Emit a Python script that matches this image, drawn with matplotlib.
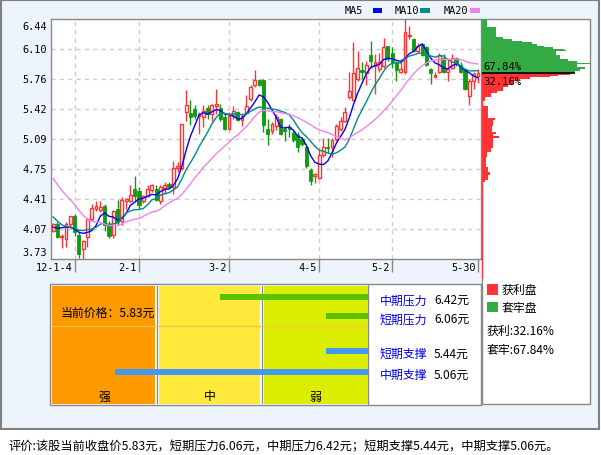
import matplotlib
matplotlib.use("Agg")
import matplotlib.pyplot as plt
from matplotlib.patches import Rectangle
import numpy as np

plt.rcParams["font.family"] = ["Noto Sans CJK SC", "DejaVu Sans"]

W, H, DPI = 601, 456, 100

# Daily candles, 2011-12-26 .. 2012-05-30
opens = [4.05, 4.13, 3.98, 3.96, 4.12, 4.21, 4.00, 3.84, 3.98, 4.18,
         4.30, 4.28, 4.33, 4.13, 4.00, 4.29, 4.16, 4.38, 4.39, 4.52,
         4.50, 4.38, 4.44, 4.51, 4.52, 4.38, 4.53, 4.58, 4.54, 4.76,
         4.76, 5.39, 5.38, 5.42, 5.34, 5.33, 5.43, 5.37, 5.46, 5.44,
         5.33, 5.20, 5.35, 5.39, 5.30, 5.38, 5.54, 5.69, 5.75, 5.75,
         5.20, 5.17, 5.23, 5.31, 5.20, 5.22, 5.15, 5.13, 5.08, 5.00,
         4.74, 4.67, 4.65, 4.90, 5.00, 4.99, 5.08, 5.20, 5.29, 5.56,
         5.53, 5.76, 5.86, 5.83, 6.03, 5.91, 5.88, 5.91, 6.13, 6.06,
         5.95, 5.84, 5.84, 6.25, 6.21, 6.08, 6.16, 6.12, 5.88, 5.78,
         5.84, 6.00, 5.84, 5.89, 6.00, 5.92, 5.86, 5.57, 5.74, 5.80]
highs = [4.14, 4.15, 4.01, 4.15, 4.22, 4.24, 4.03, 3.95, 4.19, 4.35,
         4.39, 4.39, 4.35, 4.16, 4.28, 4.40, 4.43, 4.42, 4.57, 4.67,
         4.54, 4.45, 4.56, 4.58, 4.56, 4.56, 4.60, 4.60, 4.84, 4.82,
         5.26, 5.64, 5.52, 5.47, 5.39, 5.47, 5.47, 5.48, 5.65, 5.48,
         5.37, 5.39, 5.46, 5.40, 5.37, 5.58, 5.69, 5.86, 5.76, 5.76,
         5.31, 5.28, 5.37, 5.32, 5.23, 5.26, 5.17, 5.16, 5.11, 5.01,
         4.76, 4.70, 4.97, 5.10, 5.10, 5.10, 5.25, 5.33, 5.45, 5.84,
         6.18, 6.08, 5.96, 5.97, 6.19, 6.04, 6.06, 6.23, 6.14, 6.12,
         5.97, 5.99, 6.44, 6.36, 6.22, 6.17, 6.17, 6.14, 5.89, 5.84,
         6.06, 6.04, 5.99, 6.04, 6.01, 5.96, 5.88, 5.76, 5.84, 5.88]
lows = [4.04, 3.97, 3.85, 3.87, 4.09, 3.99, 3.74, 3.73, 3.87, 4.16,
        4.27, 4.26, 4.05, 3.97, 3.97, 4.11, 4.11, 4.30, 4.37, 4.38,
        4.30, 4.36, 4.43, 4.49, 4.39, 4.35, 4.46, 4.53, 4.46, 4.71,
        4.74, 5.29, 5.24, 5.31, 5.14, 5.22, 5.31, 5.29, 5.37, 5.29,
        5.19, 5.19, 5.31, 5.29, 5.23, 5.37, 5.51, 5.67, 5.68, 5.16,
        5.02, 5.14, 5.19, 5.13, 5.06, 5.11, 5.05, 4.94, 5.01, 4.76,
        4.56, 4.59, 4.63, 4.88, 4.93, 4.88, 5.06, 5.18, 5.28, 5.54,
        5.52, 5.74, 5.76, 5.70, 5.89, 5.59, 5.84, 5.89, 5.97, 5.89,
        5.74, 5.83, 5.82, 6.21, 6.07, 6.06, 6.02, 5.91, 5.71, 5.78,
        5.83, 5.83, 5.74, 5.87, 5.91, 5.83, 5.64, 5.47, 5.65, 5.72]
closes = [4.12, 3.98, 3.99, 4.13, 4.21, 4.04, 3.79, 3.93, 4.18, 4.31,
          4.33, 4.32, 4.11, 3.99, 4.27, 4.15, 4.40, 4.41, 4.45, 4.44,
          4.34, 4.44, 4.52, 4.56, 4.40, 4.54, 4.56, 4.54, 4.76, 4.78,
          5.25, 5.47, 5.33, 5.35, 5.37, 5.40, 5.37, 5.47, 5.48, 5.31,
          5.20, 5.34, 5.40, 5.30, 5.34, 5.46, 5.67, 5.75, 5.69, 5.24,
          5.14, 5.25, 5.33, 5.14, 5.18, 5.20, 5.07, 5.00, 5.03, 4.78,
          4.61, 4.69, 4.90, 5.00, 4.98, 5.07, 5.23, 5.29, 5.39, 5.63,
          5.83, 5.89, 5.84, 5.92, 5.97, 5.95, 5.95, 6.12, 5.99, 5.95,
          5.86, 5.88, 6.29, 6.26, 6.08, 6.13, 6.03, 5.92, 5.83, 5.81,
          6.03, 5.84, 5.88, 6.00, 5.93, 5.84, 5.65, 5.74, 5.82, 5.83]
# earlier sessions, needed to start the moving averages at the first candle
prior_closes = [5.35, 5.30, 5.25, 5.20, 5.15, 5.10, 5.05, 5.05, 4.75, 4.55,
                4.45, 4.40, 4.35, 4.25, 4.15, 4.05, 3.95, 4.10, 4.23]

tick_index = [5, 20, 41, 62, 79, 99]
tick_labels = ["12-1-4", "2-1", "3-2", "4-5", "5-2", "5-30"]
price_ticks = [3.73, 4.07, 4.41, 4.75, 5.09, 5.42, 5.76, 6.10, 6.44]

# chip distribution: price band (top, bottom) and amount held in it
chip_top = [6.44, 6.35, 6.24, 6.21, 6.19, 6.18, 6.16, 6.14, 6.12, 6.105,
            6.095, 6.085, 6.075, 6.03, 5.99, 5.97, 5.945, 5.935, 5.90, 5.88,
            5.85,
            5.83, 5.81, 5.80, 5.79, 5.78, 5.76, 5.74, 5.70, 5.67, 5.63,
            5.61, 5.56, 5.51, 5.46, 5.32, 5.30, 5.23, 5.16, 5.14, 5.12,
            5.10, 4.98, 4.94, 4.88, 4.77, 4.71, 4.68, 4.62, 4.60]
chip_bottom = [6.35, 6.24, 6.21, 6.19, 6.18, 6.16, 6.14, 6.12, 6.105, 6.095,
               6.085, 6.075, 6.03, 5.99, 5.97, 5.945, 5.935, 5.90, 5.88, 5.85,
               5.83,
               5.81, 5.80, 5.79, 5.78, 5.76, 5.74, 5.70, 5.67, 5.63, 5.61,
               5.56, 5.51, 5.46, 5.32, 5.30, 5.23, 5.16, 5.14, 5.12, 5.10,
               4.98, 4.94, 4.88, 4.77, 4.71, 4.68, 4.62, 4.60, 3.50]
chip_amount = [5, 14, 21, 30, 40, 50, 55, 62, 71, 82,
               65, 84, 74, 78, 86, 95, 108, 95, 103, 98,
               93,
               88, 76, 68, 58, 48, 38, 31, 26, 21, 15,
               9, 3, 1.3, 6.3, 13, 11, 9.7, 14, 11, 17,
               10.7, 8.7, 5.3, 4, 6.3, 8, 6.3, 3, 1.2]
current_price = 5.83
profit_pct = 32.16
trapped_pct = 67.84

level_names = ["中期压力", "短期压力", "短期支撑", "中期支撑"]
level_prices = [6.42, 6.06, 5.44, 5.06]
level_strength = [1.4, 0.39, 0.39, 2.4]
zone_names = ["强", "中", "弱"]

RED = "#FF3333"
GREEN = "#109A10"
CHIP_GREEN = "#33AA44"
GRID = "#CCCCCC"
FRAME = "#888888"
BG = "#EEF4FC"
MONO = "DejaVu Sans Mono"

fig = plt.figure(figsize=(W / DPI, H / DPI), dpi=DPI, facecolor="white")


def px_axes(x0, y0, x1, y1):
    return fig.add_axes([x0 / W, 1 - y1 / H, (x1 - x0) / W, (y1 - y0) / H])


# pixel-space canvas for frames, legends and free text
bg = px_axes(0, 0, W, H)
bg.set_xlim(0, W)
bg.set_ylim(H, 0)
bg.axis("off")
bg.add_patch(Rectangle((1, 1), 598, 429, facecolor=BG, edgecolor="#808080", lw=1.5))
bg.add_patch(Rectangle((482, 20), 108, 385, facecolor="white", edgecolor=FRAME, lw=1))
bg.add_patch(Rectangle((50, 285), 431, 121, facecolor="white", edgecolor=FRAME, lw=1))

# ---- candlestick chart ----
ax = px_axes(51, 20, 480.5, 260)
ax.set_facecolor("white")
n = len(closes)
x = np.arange(n)
o = np.array(opens)
c = np.array(closes)
hi = np.array(highs)
lo = np.array(lows)
up = c >= o

ax.set_xlim(-0.5, 99.6)
ax.set_ylim(price_ticks[0], price_ticks[-1])

for v in price_ticks[1:-1]:
    ax.axhline(v, color=GRID, lw=1, ls=(0, (3, 3)), zorder=1)
for t in tick_index[:-1]:
    ax.axvline(t, color=GRID, lw=1, ls=(0, (3, 3)), zorder=1)

ax.vlines(x, lo, hi, colors=np.where(up, RED, GREEN), lw=1, zorder=2)
body_lo = np.minimum(o, c)
body_h = np.maximum(np.abs(c - o), 0.008)
ax.bar(x[up], body_h[up], bottom=body_lo[up], width=0.66, facecolor="white",
       edgecolor=RED, lw=1, zorder=3)
ax.bar(x[~up], body_h[~up], bottom=body_lo[~up], width=0.74, facecolor=GREEN,
       edgecolor=GREEN, lw=0.6, zorder=3)

full = np.array(prior_closes + closes)
k0 = len(prior_closes)
ma_specs = [("MA5", 5, "#0000FF"), ("MA10", 10, "#008B8B"), ("MA20", 20, "#EE82EE")]
for name, w, col in ma_specs:
    ma = np.array([full[k0 + i - w + 1:k0 + i + 1].mean() for i in range(n)])
    ax.plot(x, ma, color=col, lw=1, zorder=4)

for s in ax.spines.values():
    s.set_color(FRAME)
    s.set_linewidth(1)
ax.set_yticks([])
ax.set_xticks(tick_index)
ax.set_xticklabels([])
ax.tick_params(axis="x", length=9, width=1, color=FRAME, direction="out")

for i, v in enumerate(price_ticks):
    dy = -5 if i == len(price_ticks) - 1 else (5 if i == 0 else 0)
    ax.annotate(f"{v:.2f}", xy=(0, v), xycoords=("axes fraction", "data"),
                xytext=(-3, dy), textcoords="offset points", ha="right",
                va="center", fontsize=7.4, family=MONO)
for t, lab in zip(tick_index, tick_labels):
    ax.annotate(lab, xy=(t, 0), xycoords=("data", "axes fraction"),
                xytext=(-1.5, -6), textcoords="offset points", ha="right",
                va="center", fontsize=7.4, family=MONO)

# legend along the top
leg_text_x = [345, 395, 444]
leg_box_x = [372.5, 420, 470]
for (name, w, col), lx, bx in zip(ma_specs, leg_text_x, leg_box_x):
    bg.text(lx, 11.5, name, fontsize=7.4, family=MONO, ha="left", va="center")
    bg.add_patch(Rectangle((bx, 9.3), 9.5, 4.7, facecolor=col, edgecolor="none"))

# ---- chip distribution ----
cax = px_axes(482, 20, 590, 280)
cax.set_xlim(0, 108)
cax.set_ylim(price_ticks[-1] - (price_ticks[-1] - price_ticks[0]) * 260 / 240, price_ticks[-1])
cax.axis("off")
ct = np.array(chip_top)
cb = np.array(chip_bottom)
chip_cols = np.where(cb >= current_price - 1e-9, CHIP_GREEN, RED)
cax.barh((ct + cb) / 2, chip_amount, height=ct - cb, left=0, color=chip_cols,
         edgecolor="none", align="center")
cax.hlines(current_price, 0, 93, color="black", lw=1.2)
cax.annotate(f"{trapped_pct:.2f}%", xy=(0, current_price), xytext=(1.2, 1.2),
             textcoords="offset points", ha="left", va="bottom", fontsize=7.6, family=MONO)
cax.annotate(f"{profit_pct:.2f}%", xy=(0, current_price), xytext=(1.2, -2.5),
             textcoords="offset points", ha="left", va="top", fontsize=7.6, family=MONO)

# chip legend
bg.add_patch(Rectangle((487.3, 285), 10.4, 10.7, facecolor=RED, edgecolor="none"))
bg.text(502, 290.7, "获利盘", fontsize=8.6, ha="left", va="center")
bg.add_patch(Rectangle((487.3, 302.7), 10.4, 10.7, facecolor=CHIP_GREEN, edgecolor="none"))
bg.text(502, 308.2, "套牢盘", fontsize=8.6, ha="left", va="center")
bg.text(486.7, 331.7, f"获利:{profit_pct:.2f}%", fontsize=8.6, ha="left", va="center")
bg.text(486.7, 351, f"套牢:{trapped_pct:.2f}%", fontsize=8.6, ha="left", va="center")

# ---- pressure / support panel ----
zax = px_axes(52, 287, 367.5, 404.5)
zax.set_xlim(3, 0)
zax.set_ylim(117.5, 0)
zax.axis("off")
zone_cols = ["#FF9900", "#FFE93A", "#DCEE00"]
for j, (zn, zc) in enumerate(zip(zone_names, zone_cols)):
    zax.axvspan(3 - j, 2 - j, color=zc, lw=0, zorder=0)
    zax.text(2.5 - j, 110, zn, ha="center", va="center", fontsize=8.6)
for b in (2, 1):
    zax.axvline(b, color="white", lw=3, zorder=1)
    zax.axvline(b, color=FRAME, lw=0.9, zorder=1)
zax.axhline(40.3, color="#F5C24A", lw=0.9, zorder=1)
rows = [11, 30, 65, 86]
bar_cols = ["#5CBF00", "#5CBF00", "#4499EE", "#4499EE"]
zax.barh(rows, level_strength, left=0, height=5.7, color=bar_cols, zorder=2)
zax.text(2.92, 26.3, f"当前价格：{current_price:.2f}元", ha="left", va="center", fontsize=8.6)

bg.vlines(368, 285, 406, color=FRAME, lw=1)
for r, nm, p in zip(rows, level_names, level_prices):
    yy = 287 + r + 2.7
    bg.text(380, yy, nm, color="#0000EE", fontsize=8.6, ha="left", va="center")
    bg.text(434, yy, f"{p:.2f}元", fontsize=8.6, ha="left", va="center")

summary = (f"评价:该股当前收盘价{current_price:.2f}元，"
           f"短期压力{level_prices[1]:.2f}元，中期压力{level_prices[0]:.2f}元；"
           f"短期支撑{level_prices[2]:.2f}元，中期支撑{level_prices[3]:.2f}元。")
bg.text(8, 447, summary, fontsize=8.8, ha="left", va="center")

fig.savefig("out.png", dpi=DPI, facecolor="white")
